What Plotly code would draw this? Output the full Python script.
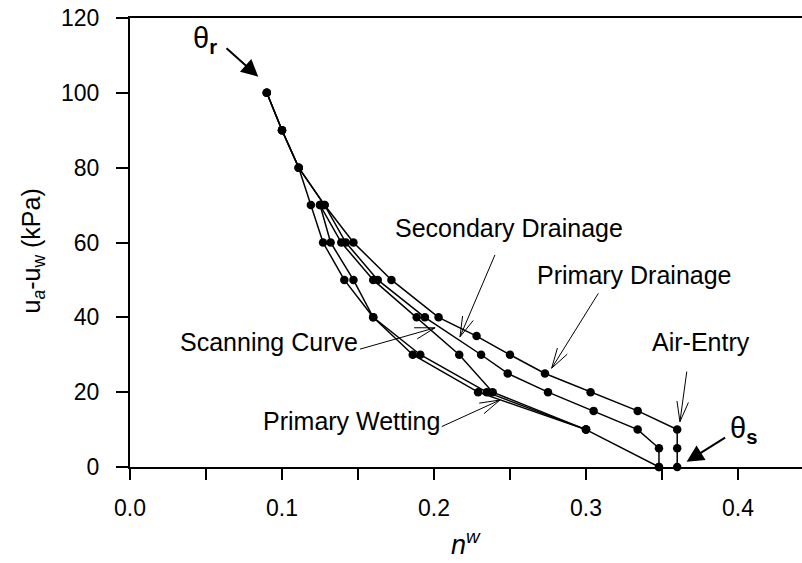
import math
import plotly.graph_objects as go

# Soil-water characteristic curves: volumetric water content n^w vs matric suction (kPa)
suction_pd = [0, 5, 10, 15, 20, 25, 30, 35, 40, 50, 60, 70, 80, 90, 100]
nw_pd = [0.360, 0.360, 0.360, 0.334, 0.303, 0.273, 0.250, 0.228, 0.203, 0.172, 0.147, 0.128, 0.111, 0.100, 0.090]

suction_sd = [0, 5, 10, 15, 20, 25, 30, 40, 50, 60, 70, 80, 90, 100]
nw_sd = [0.348, 0.348, 0.334, 0.305, 0.275, 0.2485, 0.231, 0.194, 0.163, 0.142, 0.128, 0.111, 0.100, 0.090]

suction_pw = [100, 90, 80, 70, 60, 50, 40, 30, 20, 10, 0]
nw_pw = [0.090, 0.100, 0.111, 0.119, 0.127, 0.141, 0.160, 0.186, 0.229, 0.300, 0.348]

suction_sc = [70, 60, 50, 40, 30, 20, 10]
nw_sc = [0.125, 0.139, 0.160, 0.1886, 0.2166, 0.2386, 0.300]

suction_sw = [70, 60, 50, 40, 30, 20, 10]
nw_sw = [0.125, 0.132, 0.147, 0.160, 0.191, 0.2347, 0.300]

x_ticks = [0.0, 0.1, 0.2, 0.3, 0.4]
y_ticks = [0, 20, 40, 60, 80, 100, 120]

W, H = 802, 563
ML, MR, MT, MB = 130, 0, 18, 96
X_MAX = 0.4421
Y_MAX = 120
PX_X = (W - ML - MR) / X_MAX
PX_Y = (H - MT - MB) / Y_MAX

FONT = "Liberation Sans, Arial, sans-serif"

fig = go.Figure()
for xs, ys in [(nw_pd, suction_pd), (nw_sd, suction_sd), (nw_pw, suction_pw),
               (nw_sc, suction_sc), (nw_sw, suction_sw)]:
    fig.add_trace(go.Scatter(
        x=xs, y=ys, mode="lines+markers",
        line=dict(color="black", width=1.5),
        marker=dict(color="black", size=8.5),
        cliponaxis=False, showlegend=False, hoverinfo="skip",
    ))

annotations = []
shapes = []


def open_arrow(tail, tip, barb=21, half_deg=16):
    """Thin arrow with an open V head, drawn as line shapes in data space."""
    shapes.append(dict(type="line", xref="x", yref="y", x0=tail[0], y0=tail[1],
                       x1=tip[0], y1=tip[1], line=dict(color="black", width=1)))
    dx = (tail[0] - tip[0]) * PX_X
    dy = (tail[1] - tip[1]) * PX_Y
    ang = math.atan2(dy, dx)
    for s in (1, -1):
        a = ang + s * math.radians(half_deg)
        bx = tip[0] + barb * math.cos(a) / PX_X
        by = tip[1] + barb * math.sin(a) / PX_Y
        shapes.append(dict(type="line", xref="x", yref="y", x0=tip[0], y0=tip[1],
                           x1=bx, y1=by, line=dict(color="black", width=1)))


def label(text, x, y, xanchor):
    annotations.append(dict(text=text, x=x, y=y, xref="x", yref="y", showarrow=False,
                            xanchor=xanchor, yanchor="middle",
                            font=dict(family=FONT, size=25, color="black")))


label("Secondary Drainage", 0.173, 63.9, "left")
open_arrow((0.2401, 56.7), (0.2171, 34.8))

label("Primary Drainage", 0.2664, 51.3, "left")
open_arrow((0.3081, 46.4), (0.2774, 26.4))

label("Scanning Curve", 0.1513, 33.4, "right")
open_arrow((0.1513, 31.5), (0.2007, 37.2))

label("Primary Wetting", 0.2053, 12.3, "right")
open_arrow((0.2051, 10.8), (0.2434, 17.9))

label("Air-Entry", 0.3421, 33.4, "left")
open_arrow((0.3663, 25.5), (0.3618, 12.1))

# residual and saturated water contents
for txt, pos, tail, tip in [
    ("θ<sub><b>r</b></sub>", (0.0493, 114.1), (0.0625, 112.3), (0.0844, 104.3)),
    ("θ<sub><b>s</b></sub>", (0.4033, 9.9), (0.3925, 8.1), (0.3662, 1.4)),
]:
    annotations.append(dict(text=txt, x=pos[0], y=pos[1], xref="x", yref="y",
                            showarrow=False, xanchor="center", yanchor="middle",
                            font=dict(family=FONT, size=29, color="black")))
    annotations.append(dict(text="", x=tip[0], y=tip[1], ax=tail[0], ay=tail[1],
                            xref="x", yref="y", axref="x", ayref="y",
                            showarrow=True, arrowhead=2, arrowsize=1.7,
                            arrowwidth=2, arrowcolor="black"))

# axis titles
annotations.append(dict(text="u<sub><i>a</i></sub>-u<sub>w</sub> (kPa)",
                        x=(33 - ML) / (W - ML - MR), y=0.48, xref="paper", yref="paper",
                        showarrow=False, textangle=-90, xanchor="center", yanchor="middle",
                        font=dict(family=FONT, size=25, color="black")))
annotations.append(dict(text="<i>n</i><sup><i>w</i></sup>",
                        x=0.5, y=-(543 - (H - MB)) / (H - MT - MB), xref="paper", yref="paper",
                        showarrow=False, xanchor="center", yanchor="middle",
                        font=dict(family=FONT, size=27, color="black")))

fig.update_layout(
    width=W, height=H,
    margin=dict(l=ML, r=MR, t=MT, b=MB),
    paper_bgcolor="white", plot_bgcolor="white",
    font=dict(family=FONT, size=23, color="black"),
    annotations=annotations, shapes=shapes,
    xaxis=dict(range=[0, X_MAX], tickvals=x_ticks,
               ticktext=[f"{v:.1f}" for v in x_ticks],
               tickfont=dict(family=FONT, size=23, color="black"),
               ticks="outside", ticklen=11, tickwidth=1.5, tickcolor="black",
               minor=dict(dtick=0.05, tick0=0, ticks="outside", ticklen=11,
                          tickwidth=1.5, tickcolor="black"),
               showline=True, linewidth=2, linecolor="black", mirror=True,
               showgrid=False, zeroline=False, ticklabelstandoff=8),
    yaxis=dict(range=[0, Y_MAX], tickvals=y_ticks,
               tickfont=dict(family=FONT, size=23, color="black"),
               ticks="outside", ticklen=12, tickwidth=1.5, tickcolor="black",
               showline=True, linewidth=2, linecolor="black",
               showgrid=False, zeroline=False, ticklabelstandoff=12),
)

fig.write_html("out.html")
